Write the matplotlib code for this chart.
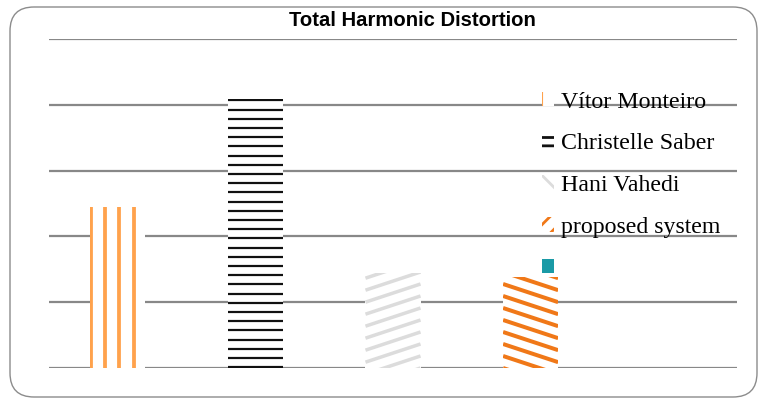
import numpy as np
import matplotlib
matplotlib.use("Agg")
import matplotlib.pyplot as plt
from matplotlib.patches import FancyBboxPatch, Patch
from matplotlib.collections import LineCollection
from matplotlib.transforms import IdentityTransform

# ---- data ----
series = ["Vítor Monteiro", "Christelle Saber", "Hani Vahedi", "proposed system", ""]
values = [2.44, 4.09, 1.44, 1.39, 0.0]
colors = ["#FFA24C", "#111111", "#DCDCDC", "#F07818", "#1A9AA6"]
title = "Total Harmonic Distortion"

W, H, DPI = 765, 401, 100
fig = plt.figure(figsize=(W / DPI, H / DPI), dpi=DPI)
fig.patch.set_facecolor("white")

# rounded outer frame (pixel coordinates)
frame = FancyBboxPatch((10, 4), 747, 390, boxstyle="round,pad=0,rounding_size=24",
                       transform=IdentityTransform(), facecolor="none",
                       edgecolor="#8c8c8c", linewidth=1.0)
fig.patches.append(frame)

ax_l, ax_r, ax_t, ax_b = 49, 737, 39, 368
ax = fig.add_axes([ax_l / W, 1 - ax_b / H, (ax_r - ax_l) / W, (ax_b - ax_t) / H])
ax.set_xlim(-0.5, len(series) - 0.5)
ax.set_ylim(0, 5)
ax.set_yticks(np.arange(0, 6, 1))
ax.set_xticks([])
ax.tick_params(left=False, labelleft=False)
for s in ax.spines.values():
    s.set_visible(False)
ax.grid(axis="y", color="#888888", linewidth=1.6)
ax.set_axisbelow(True)
ax.patch.set_alpha(0)

x = np.arange(len(series))
bars = ax.bar(x, values, width=0.4, color="white", edgecolor="none", zorder=2)


def stripes(bar, kind, color, lw_px, step, slope=0.0):
    """Fill a bar with a stripe pattern, clipped to the bar."""
    bb = bar.get_window_extent()
    x0, x1, y0, y1 = bb.x0, bb.x1, bb.y0, bb.y1
    segs = []
    if kind == "v":
        xx = x0 + 0.5
        while xx <= x1 + 1:
            segs.append([(xx, y0), (xx, y1)])
            xx += step
    elif kind == "h":
        yy = y1 - 1.5
        while yy >= y0:
            segs.append([(x0, yy), (x1, yy)])
            yy -= step
    else:
        span = abs(slope) * (x1 - x0)
        yy = y0 - span - step
        while yy <= y1 + span + step:
            if slope > 0:
                segs.append([(x0, yy), (x1, yy + span)])
            else:
                segs.append([(x0, yy + span), (x1, yy)])
            yy += step
    lc = LineCollection(segs, colors=color, linewidths=lw_px * 72 / DPI,
                        transform=IdentityTransform(), zorder=3)
    fig.add_artist(lc)
    lc.set_clip_path(bar)
    return lc


stripes(bars[0], "v", colors[0], 3.8, 14.3)
stripes(bars[1], "h", colors[1], 2.2, 9.2)
stripes(bars[2], "d", colors[2], 3.5, 12.0, slope=0.33)
stripes(bars[3], "d", colors[3], 4.0, 12.0, slope=-0.33)

fig.text(412 / W, 1 - 21 / H, title, ha="center", va="center",
         fontsize=14.6, fontweight="bold", family="Liberation Sans")

plt.rcParams["hatch.linewidth"] = 2.0
handles = [
    Patch(facecolor="white", edgecolor=colors[0], hatch="|", linewidth=0),
    Patch(facecolor="white", edgecolor=colors[1], hatch="--", linewidth=0),
    Patch(facecolor="white", edgecolor=colors[2], hatch="\\\\", linewidth=0),
    Patch(facecolor="white", edgecolor=colors[3], hatch="//", linewidth=0),
    Patch(facecolor=colors[4], edgecolor="none"),
]
leg = fig.legend(handles, series, loc="upper left",
                 bbox_to_anchor=(542 / W, 1 - 91.5 / H), bbox_transform=fig.transFigure,
                 frameon=False, borderpad=0, borderaxespad=0,
                 handlelength=0.5, handleheight=0.55, handletextpad=0.3,
                 labelspacing=0.87,
                 prop={"family": "Liberation Serif", "size": 17.2})

fig.savefig("out.png", dpi=DPI)
